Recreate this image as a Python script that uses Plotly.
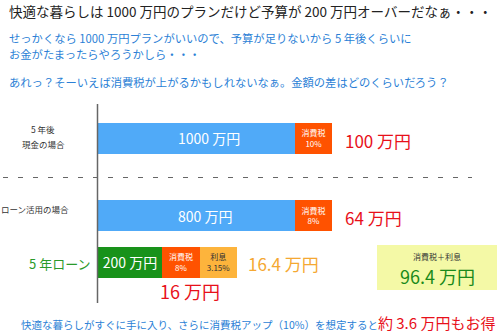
import plotly.graph_objects as go

# ---------------- data ----------------
rows = ["5年後 現金の場合", "ローン活用の場合", "5 年ローン"]
principal = [1000, 800, 200]          # 万円
tax_rate = ["10%", "8%", "8%"]
tax_amount = [100, 64, 16]            # 万円
interest_rate = ["", "", "3.15%"]
interest_amount = 16.4                # 万円
tax_plus_interest = 96.4              # 万円
saving = 3.6                          # 万円
# schematic segment lengths as drawn in the chart (display units)
seg_principal = [197, 197, 64]
seg_tax = [37, 37, 38]
seg_interest = [0, 0, 37]

# ---------------- layout constants ----------------
W, H = 500, 335
X0 = 98                       # pixel column of the bar base
row_y = [138, 215.5, 262]     # pixel row centres
BAR_W = 31
FONT = "Noto Sans CJK JP"

BLUE = "#50aaf8"
ORANGE = "#ff5200"
GREEN = "#18921a"
YELLOW = "#fdb43c"
RED = "#e8101a"
TXT_BLUE = "#2b7fd6"

def px(x):
    return x - X0

fig = go.Figure()

principal_labels = [f"{v:g} 万円" for v in principal]

fig.add_trace(go.Bar(
    y=row_y, x=seg_principal, orientation="h", width=BAR_W,
    marker=dict(color=[BLUE, BLUE, GREEN], line=dict(width=0)),
    text=["", "", principal_labels[2]],
    textposition="inside", insidetextanchor="middle", textangle=0,
    constraintext="none",
    textfont=dict(family=FONT, size=14, color="white"),
    hoverinfo="skip",
))
fig.add_trace(go.Bar(
    y=row_y, x=seg_tax, orientation="h", width=BAR_W,
    marker=dict(color=ORANGE, line=dict(width=0)),
    text=[f"消費税<br>{r}" for r in tax_rate],
    textposition="inside", insidetextanchor="middle", textangle=0,
    constraintext="none",
    textfont=dict(family=FONT, size=8, color="white"),
    hoverinfo="skip",
))
fig.add_trace(go.Bar(
    y=row_y, x=seg_interest, orientation="h", width=BAR_W,
    marker=dict(color=YELLOW, line=dict(width=0)),
    text=[f"利息<br>{r}" if r else "" for r in interest_rate],
    textposition="inside", insidetextanchor="middle", textangle=0,
    constraintext="none",
    textfont=dict(family=FONT, size=8, color="#333333"),
    hoverinfo="skip",
))

shapes = [
    # vertical axis line
    dict(type="line", xref="x", yref="y", x0=px(97.5), x1=px(97.5), y0=104, y1=303,
         line=dict(color="#666666", width=1.5), layer="above"),
    # dashed separator
    dict(type="line", xref="x", yref="y", x0=px(3), x1=px(472), y0=177.5, y1=177.5,
         line=dict(color="#666666", width=1.2, dash="5px,10px")),
    # summary box
    dict(type="rect", xref="x", yref="y", x0=px(377), x1=px(497), y0=245, y1=290,
         fillcolor="#f4f9a6", line=dict(width=0), layer="below"),
]

ann = []
def add(x, y, text, size, color, anchor="left", family=FONT):
    ann.append(dict(x=px(x), y=y, xref="x", yref="y", text=text, showarrow=False,
                    xanchor=anchor, yanchor="middle",
                    font=dict(family=family, size=size, color=color)))

add(7, 11, "快適な暮らしは 1000 万円のプランだけど予算が 200 万円オーバーだなぁ・・・", 13.5, "#222222")
add(7, 38, "せっかくなら 1000 万円プランがいいので、予算が足りないから 5 年後くらいに", 11.3, TXT_BLUE)
add(7, 54, "お金がたまったらやろうかしら・・・", 11.3, TXT_BLUE)
add(7, 82, "あれっ？そーいえば消費税が上がるかもしれないなぁ。金額の差はどのくらいだろう？", 11.3, TXT_BLUE)

# principal labels on the blue bars (left-aligned inside the bar)
add(176, row_y[0], principal_labels[0], 14, "white")
add(176, row_y[1], principal_labels[1], 14, "white")

add(43, 129, "5 年後", 8.5, "#333333", "center")
add(43, 144, "現金の場合", 8.5, "#333333", "center")
add(35, 209, rows[1], 8.5, "#333333", "center")
add(92, 263, rows[2], 13, "#2a9a2a", "right")

add(343, 140, f"{tax_amount[0]:g} 万円", 17, RED)
add(343, 217, f"{tax_amount[1]:g} 万円", 17, RED)
add(190, 291, f"{tax_amount[2]:g} 万円", 18, RED, "center")
add(246, 263, f"{interest_amount:g} 万円", 17, "#f5a832")

add(437, 256, "消費税＋利息", 8, "#333333", "center")
add(437, 276, f"{tax_plus_interest:g} 万円", 18, "#1a8a1a", "center")

ann.append(dict(x=px(497), y=322, xref="x", yref="y", showarrow=False,
                xanchor="right", yanchor="middle",
                text=(f"<span style='color:{TXT_BLUE};font-size:10.5px'>快適な暮らしがすぐに手に入り、さらに消費税アップ（10%）を想定すると</span>"
                      f"<span style='color:{RED};font-size:15px'>約 {saving:g} 万円もお得</span>"),
                font=dict(family=FONT, size=11, color=TXT_BLUE)))

fig.update_layout(
    width=W, height=H, margin=dict(l=0, r=0, t=0, b=0),
    paper_bgcolor="white", plot_bgcolor="white",
    barmode="stack", showlegend=False,
    xaxis=dict(range=[px(0), px(W)], visible=False, fixedrange=True),
    yaxis=dict(range=[H, 0], visible=False, fixedrange=True),
    shapes=shapes, annotations=ann,
)

fig.write_html("out.html")
